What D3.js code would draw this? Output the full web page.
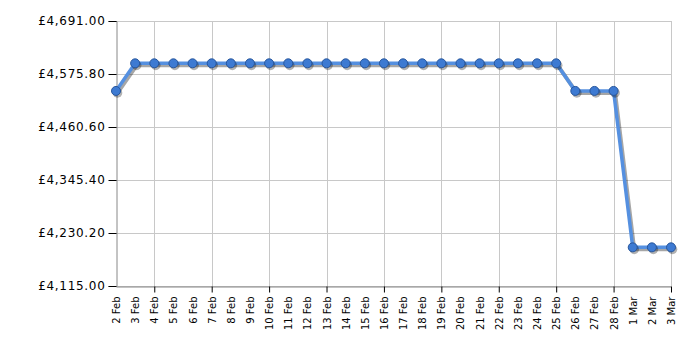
<!DOCTYPE html>
<html><head><meta charset="utf-8">
<script src="https://cdn.jsdelivr.net/npm/d3@7"></script>
<style>body{margin:0;background:#fff}svg{display:block}</style>
</head><body>
<svg id="c" width="700" height="350"></svg>
<script>
const dates = ["2 Feb","3 Feb","4 Feb","5 Feb","6 Feb","7 Feb","8 Feb","9 Feb","10 Feb","11 Feb","12 Feb","13 Feb","14 Feb","15 Feb","16 Feb","17 Feb","18 Feb","19 Feb","20 Feb","21 Feb","22 Feb","23 Feb","24 Feb","25 Feb","26 Feb","27 Feb","28 Feb","1 Mar","2 Mar","3 Mar"];
const prices = [4539,4599,4599,4599,4599,4599,4599,4599,4599,4599,4599,4599,4599,4599,4599,4599,4599,4599,4599,4599,4599,4599,4599,4599,4539,4539,4539,4199,4199,4199];
const yTicks = [4115.00,4230.20,4345.40,4460.60,4575.80,4691.00];
const majorDates = ["4 Feb","7 Feb","10 Feb","13 Feb","16 Feb","19 Feb","22 Feb","25 Feb","28 Feb","3 Mar"];

const L=116,R=671,T=21,B=286;
const svg=d3.select("#c");
const x=d3.scalePoint().domain(dates).range([L,R]);
const y=d3.scaleLinear().domain([4115,4691]).range([B,T]);
const font="'DejaVu Sans', Verdana, sans-serif";

// grid
const g=svg.append("g");
g.selectAll(".hg").data(yTicks).join("line")
 .attr("x1",L).attr("x2",R).attr("y1",d=>Math.round(y(d))+0.5).attr("y2",d=>Math.round(y(d))+0.5)
 .attr("stroke","#c8c8c8").attr("stroke-width",1);
g.selectAll(".vg").data(majorDates).join("line")
 .attr("x1",d=>Math.round(x(d))+0.5).attr("x2",d=>Math.round(x(d))+0.5).attr("y1",T).attr("y2",B)
 .attr("stroke","#c8c8c8").attr("stroke-width",1);

// axes
const yAxis=d3.axisLeft(y).tickValues(yTicks).tickSize(8).tickPadding(3)
 .tickFormat(d=>"£"+d3.format(",.2f")(d));
const ya=svg.append("g").attr("transform",`translate(${L+0.5},0)`).call(yAxis);
ya.select(".domain").attr("stroke","#888");
ya.selectAll(".tick line").attr("stroke","#000");
ya.selectAll("text").attr("font-family",font).attr("font-size","12px").attr("letter-spacing","0.7px").attr("fill","#000");
ya.selectAll(".tick").attr("transform",d=>`translate(0,${Math.round(y(d))+0.5})`);

const xAxis=d3.axisBottom(x).tickSize(0).tickPadding(4);
const xa=svg.append("g").attr("transform",`translate(0,${B+0.5})`).call(xAxis);
xa.select(".domain").attr("stroke","#888");
xa.selectAll(".tick text").attr("font-family",font).attr("font-size","10px").attr("fill","#000")
 .attr("transform","rotate(-90)").attr("text-anchor","end").attr("dx","-10px").attr("dy","0.35em").attr("x",0).attr("y",0);
xa.selectAll(".tick").filter(d=>majorDates.includes(d)).append("line")
 .attr("y1",0).attr("y2",6).attr("stroke","#000");

// line
const line=d3.line().x((d,i)=>x(dates[i])).y(d=>y(d));
svg.append("path").datum(prices).attr("d",line).attr("fill","none")
 .attr("stroke","#000").attr("stroke-opacity",0.35).attr("stroke-width",4).attr("transform","translate(1.5,2)").attr("stroke-linejoin","round");
svg.append("path").datum(prices).attr("d",line).attr("fill","none")
 .attr("stroke","#5590e0").attr("stroke-width",3.5).attr("stroke-linejoin","round");

// points
svg.selectAll(".sh").data(prices).join("circle")
 .attr("cx",(d,i)=>x(dates[i])+1.5).attr("cy",d=>y(d)+2).attr("r",4.8).attr("fill","#000").attr("fill-opacity",0.3);
svg.selectAll(".pt").data(prices).join("circle")
 .attr("cx",(d,i)=>x(dates[i])).attr("cy",d=>y(d)).attr("r",4.5)
 .attr("fill","#3d7ad2").attr("stroke","#27569c").attr("stroke-width",1);
</script>
</body></html>
